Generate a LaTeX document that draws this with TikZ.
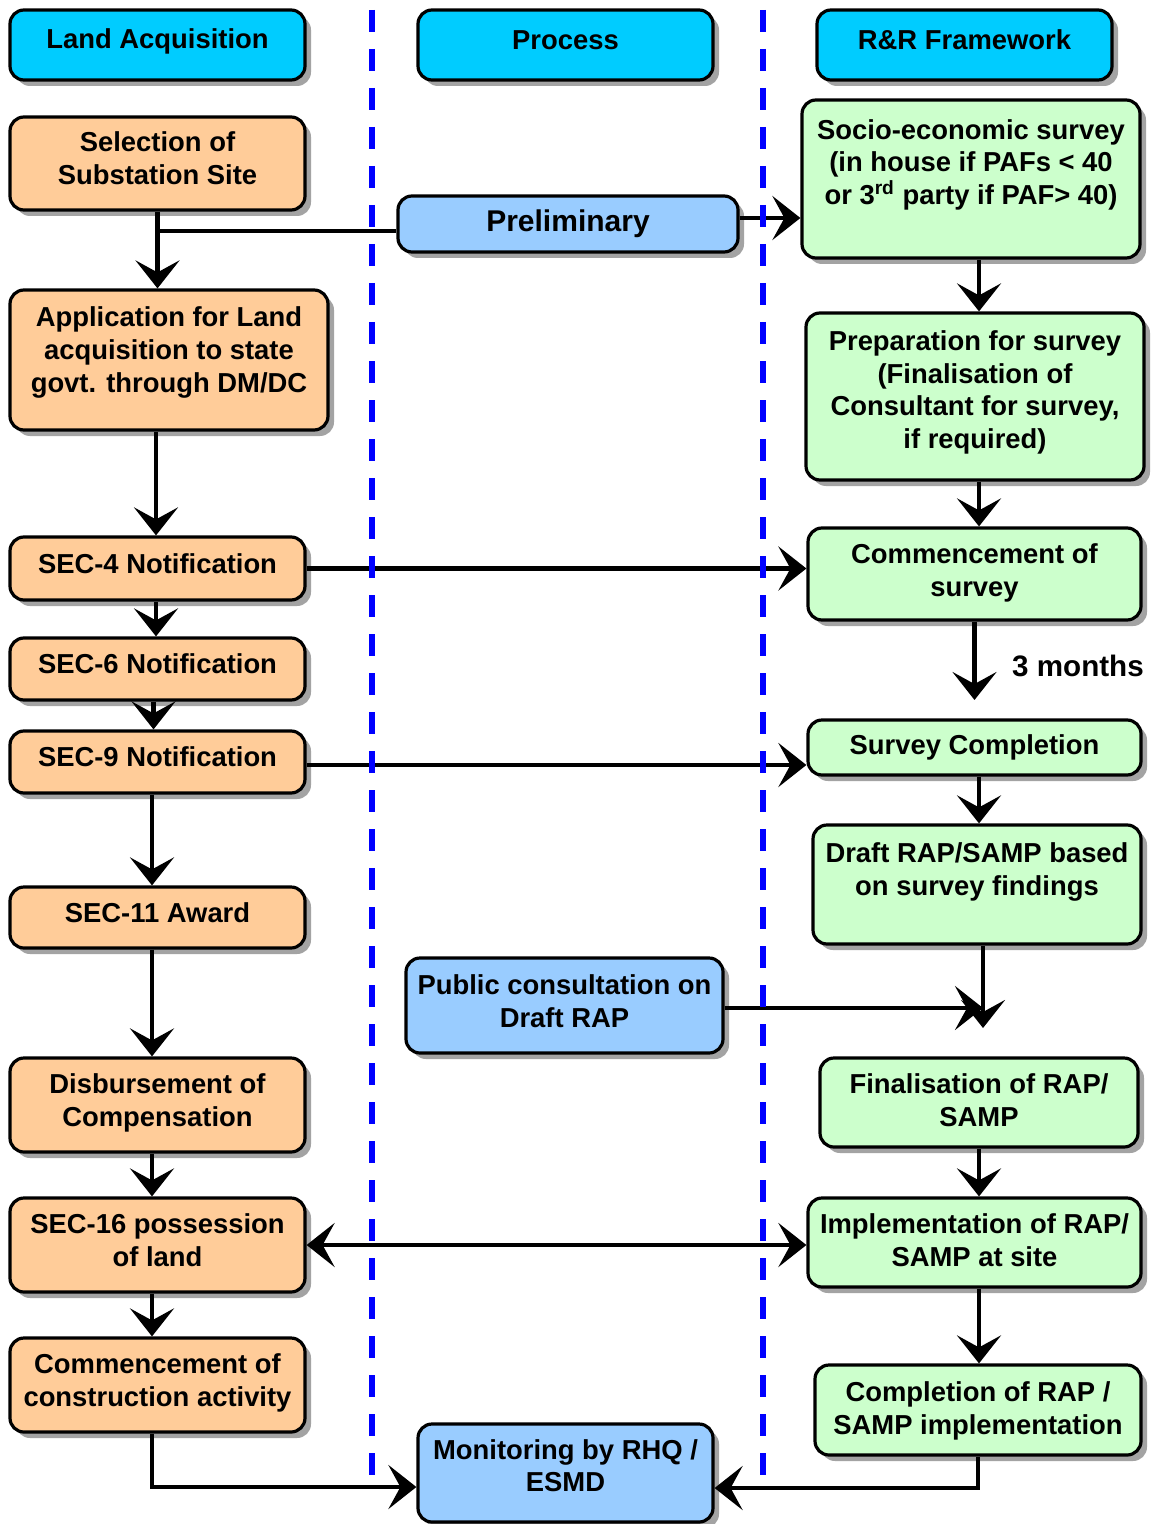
\documentclass[tikz,border=0pt]{standalone}
\usepackage{fontspec}
\setmainfont{Liberation Sans}
\usetikzlibrary{arrows.meta,shadows}
\definecolor{hdr}{HTML}{00CCFF}
\definecolor{org}{HTML}{FFCC99}
\definecolor{lbl}{HTML}{99CCFF}
\definecolor{grn}{HTML}{CCFFCC}
\begin{document}
\begin{tikzpicture}[x=0.5pt,y=-0.5pt,
 box/.style={draw=black, line width=1.6pt, rounded corners=7pt, align=center, inner sep=2pt,
   font=\bfseries\fontsize{13.7}{16.3}\selectfont,
   drop shadow={shadow xshift=3pt, shadow yshift=-3pt, fill=black!45, opacity=0.8}},
 hbox/.style={box, fill=hdr},
 obox/.style={box, fill=org},
 bbox/.style={box, fill=lbl},
 gbox/.style={box, fill=grn},
 arr/.style={line width=2.4pt, -{Stealth[length=14pt,width=22pt,inset=6pt]}},
 darr/.style={line width=2.4pt, {Stealth[length=14pt,width=22pt,inset=6pt]}-{Stealth[length=14pt,width=22pt,inset=6pt]}},
 ln/.style={line width=2.4pt},
 dashline/.style={blue, line width=2.6pt, dash pattern=on 11pt off 8.5pt}]
\fill[white] (0,0) rectangle (1154,1524);
\useasboundingbox (0,0) rectangle (1154,1524);

% headers
\node[hbox, minimum width=147.5pt, minimum height=35pt, text depth=6pt] (hla) at (157.5,45) {Land Acquisition};
\node[hbox, minimum width=147.5pt, minimum height=35pt, text depth=5pt] (hpr) at (565.5,45) {Process};
\node[hbox, minimum width=147.5pt, minimum height=35pt, text depth=5pt] (hrr) at (964.5,45) {R\&R Framework};

% left column
\node[obox, minimum width=147.5pt, minimum height=46.5pt, text depth=5.5pt] (sel) at (157.5,163.5) {Selection of\\Substation Site};
\node[obox, minimum width=159pt, minimum height=70pt, text depth=10.5pt] (app) at (169,360) {Application for Land\\acquisition to state\\govt. through DM/DC};
\node[obox, minimum width=147.5pt, minimum height=31.5pt, text depth=5pt] (s4) at (157.5,568.5) {SEC-4 Notification};
\node[obox, minimum width=147.5pt, minimum height=31pt, text depth=5pt] (s6) at (157.5,669) {SEC-6 Notification};
\node[obox, minimum width=147.5pt, minimum height=31pt, text depth=5pt] (s9) at (157.5,762) {SEC-9 Notification};
\node[obox, minimum width=147.5pt, minimum height=30.5pt, text depth=5pt] (s11) at (157.5,917.5) {SEC-11 Award};
\node[obox, minimum width=147.5pt, minimum height=47pt, text depth=5pt] (disb) at (157.5,1105) {Disbursement of\\Compensation};
\node[obox, minimum width=147.5pt, minimum height=47pt, text depth=5pt] (s16) at (157.5,1245) {SEC-16 possession\\of land};
\node[obox, minimum width=147.5pt, minimum height=47pt, text depth=5pt] (cca) at (157.5,1385) {Commencement of\\construction activity};

% middle column
\node[bbox, minimum width=170pt, minimum height=28pt, font=\bfseries\fontsize{15}{18}\selectfont] (pre) at (568,224) {Preliminary};
\node[bbox, minimum width=158.5pt, minimum height=47.5pt, text depth=4.5pt] (pub) at (564.5,1005.5) {Public consultation on\\Draft RAP};
\node[bbox, minimum width=147.5pt, minimum height=49pt, text depth=7.5pt] (mon) at (565.5,1473) {Monitoring by RHQ /\\ESMD};

% right column
\node[gbox, minimum width=169pt, minimum height=79pt, text depth=17pt] (soc) at (971,179) {Socio-economic survey\\(in house if PAFs < 40\\or 3\textsuperscript{rd} party if PAF> 40)};
\node[gbox, minimum width=169pt, minimum height=83.5pt, text depth=7pt] (prep) at (975,396.5) {Preparation for survey\\(Finalisation of\\Consultant for survey,\\if required)};
\node[gbox, minimum width=166.5pt, minimum height=46pt, text depth=4pt] (coms) at (974.5,574) {Commencement of\\survey};
\node[gbox, minimum width=166.5pt, minimum height=27.5pt] (scomp) at (974.5,747.5) {Survey Completion};
\node[gbox, minimum width=164pt, minimum height=59.5pt, text depth=15.5pt] (draft) at (977,884.5) {Draft RAP/SAMP based\\on survey findings};
\node[gbox, minimum width=159pt, minimum height=44.5pt, text depth=2.5pt] (fin) at (979,1102.5) {Finalisation of RAP/\\SAMP};
\node[gbox, minimum width=166.5pt, minimum height=44.5pt, text depth=2.5pt] (impl) at (974.5,1242.5) {Implementation of RAP/\\SAMP at site};
\node[gbox, minimum width=163pt, minimum height=45pt, text depth=2pt] (comp) at (978,1410) {Completion of RAP /\\SAMP implementation};

\node[font=\bfseries\fontsize{14.8}{17}\selectfont] (tm) at (1078,666) {3 months};

\coordinate (t3) at (974.5,700);
\coordinate (dtip) at (983,1028);
\coordinate (htip) at (983,1008);

% left arrows
\draw[arr] (sel.south) -- (sel.south |- app.north);
\draw[ln] ([yshift=-3.5pt]pre.west) -- ([yshift=-3.5pt]pre.west -| sel.south);
\draw[arr] ([yshift=3pt]pre.east) -- ([yshift=3pt]pre.east -| soc.west);
\draw[arr] ([xshift=-0.75pt]s4.north |- app.south) -- ([xshift=-0.75pt]s4.north);
\draw[arr] ([xshift=-0.75pt]s4.south) -- ([xshift=-0.75pt]s6.north);
\draw[arr] ([xshift=-2pt]s6.south) -- ([xshift=-2pt]s9.north);
\draw[arr] ([xshift=-2.75pt]s9.south) -- ([xshift=-2.75pt]s11.north);
\draw[arr] ([xshift=-2.75pt]s11.south) -- ([xshift=-2.75pt]disb.north);
\draw[arr] ([xshift=-2.75pt]disb.south) -- ([xshift=-2.75pt]s16.north);
\draw[arr] ([xshift=-2.75pt]s16.south) -- ([xshift=-2.75pt]cca.north);
\draw[arr] ([xshift=-2.75pt]cca.south) |- ([yshift=-7pt]mon.west);

% cross arrows
\draw[arr] (s4.east) -- (s4.east -| coms.west);
\draw[arr] ([yshift=-1.5pt]s9.east) -- ([yshift=-1.5pt]s9.east -| scomp.west);
\draw[darr] (s16.east) -- (s16.east -| impl.west);
\draw[arr] (pub.east |- htip) -- (htip);

% right arrows
\draw[arr] ([xshift=4pt]soc.south) -- ([xshift=4pt]soc.south |- prep.north);
\draw[arr] ([xshift=2pt]prep.south) -- ([xshift=2pt]prep.south |- coms.north);
\draw[arr] (coms.south) -- (t3);
\draw[arr] ([xshift=2.25pt]scomp.south) -- ([xshift=2.25pt]scomp.south |- draft.north);
\draw[arr] (dtip |- draft.south) -- (dtip);
\draw[arr] (fin.south) -- (fin.south |- impl.north);
\draw[arr] ([xshift=2.25pt]impl.south) -- ([xshift=2.25pt]impl.south |- comp.north);
\draw[arr] (comp.south) |- ([yshift=-7.5pt]mon.east);

% dashed separators
\draw[dashline] (372,10) -- (372,1475);
\draw[dashline] (763,10) -- (763,1475);
\end{tikzpicture}
\end{document}
